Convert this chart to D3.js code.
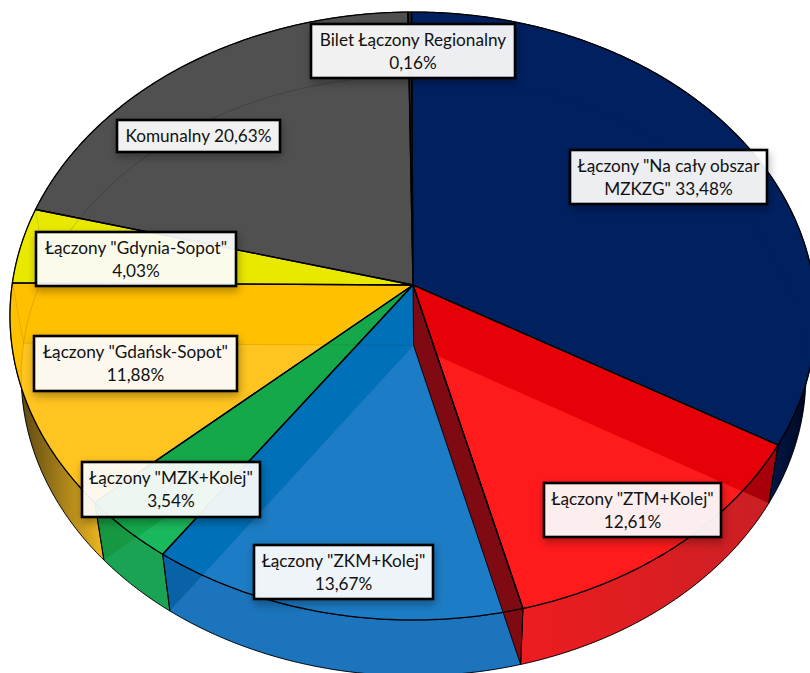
<!DOCTYPE html>
<html><head><meta charset="utf-8">
<script src="https://cdn.jsdelivr.net/npm/d3@7"></script>
<style>html,body{margin:0;background:#fff;overflow:hidden}svg{display:block}</style>
</head><body><svg id="c" width="810" height="673"></svg>
<script>
// ---- data ----
const labels = ['Łączony "Na cały obszar|MZKZG" 33,48%','Łączony "ZTM+Kolej"|12,61%','Łączony "ZKM+Kolej"|13,67%','Łączony "MZK+Kolej"|3,54%','Łączony "Gdańsk-Sopot"|11,88%','Łączony "Gdynia-Sopot"|4,03%','Komunalny 20,63%','Bilet Łączony Regionalny|0,16%'];
const values = [33.48,12.61,13.67,3.54,11.88,4.03,20.63,0.16];
// ---- styles ----
const topColors   = ['#002060','#e60008','#0070b8','#14a84a','#ffc000','#e9e900','#505050','#262626'];
const glossColors = ['#002060','#ff1a1c','#1c7cc5','#1ab85c','#ffc41f','#f7f700','#505050','#262626'];
const wallLeft    = ['#00174a','#a8000a','#0a62a6','#169640','#4a3a10','#8a8a00','#333','#111'];
const wallRight   = ['#000516','#a8000a','#0a62a6','#189e48','#f0b820','#a0a000','#333','#111'];
const wallGlossL  = ['#00174a','#ee1c20','#1c74bc','#1ba354','#4a3a10','#a0a000','#333','#111'];
const wallGlossR  = ['#000516','#c82024','#1c74bc','#1ba354','#f0b820','#a0a000','#333','#111'];
const faintArc    = [0,.05,.05,.05,.13,.13,.16,0];
const boxes = [[570,150,197,54],[544,483,177,54],[254,545,179,54],[82,462,178,55],[34,336,203,55],[36,232,200,54],[117,120,163,32],[311,24,204,54]];

// ---- projection of the tilted disc ----
const cx=413, cy=285, a=400.9, b=300.8, k=-0.102;
const vx=435, vy=4788, sx=0.0265, sy=0.0134;
const offset=-0.004;
function topP(t,r=1){const u=r*Math.sin(t),v=-r*Math.cos(t),d=1+k*v;return [cx+a*u/d,cy+b*v/d];}
function botP(t,r=1){const p=topP(t,r);return [p[0]+(vx-p[0])*sx,p[1]+(vy-p[1])*sy];}
const arc=(f,t0,t1)=>{const n=Math.max(2,Math.ceil(Math.abs(t1-t0)/0.01));return d3.range(n+1).map(i=>f(t0+(t1-t0)*i/n));};
const line=d3.line();
const closed=p=>line(p)+'Z';

const pie=d3.pie().sort(null).startAngle(offset).endAngle(2*Math.PI+offset);
const arcs=pie(values);
const svg=d3.select('#c');
const defs=svg.append('defs');

const f=defs.append('filter').attr('id','sh').attr('x','-20%').attr('y','-30%').attr('width','140%').attr('height','170%');
f.append('feDropShadow').attr('dx',1).attr('dy',4).attr('stdDeviation',4).attr('flood-color','#000').attr('flood-opacity',.33);

function grad(id,x0,x1,c0,c1){
  const g=defs.append('linearGradient').attr('id',id).attr('gradientUnits','userSpaceOnUse').attr('x1',x0).attr('x2',x1).attr('y1',0).attr('y2',0);
  g.append('stop').attr('offset',0).attr('stop-color',c0);
  g.append('stop').attr('offset',1).attr('stop-color',c1);
}
arcs.forEach((d,i)=>{
  const wall=arc(t=>topP(t),d.startAngle,d.endAngle).concat(arc(t=>botP(t),d.endAngle,d.startAngle));
  const xs=d3.extent(wall.filter(p=>p[1]>300),p=>p[0]);
  const x0=xs[0]===undefined?0:xs[0], x1=xs[1]===undefined?1:xs[1];
  grad('w'+i,x0,x1,wallLeft[i],wallRight[i]);
  grad('g'+i,x0,x1,wallGlossL[i],wallGlossR[i]);
  d.wall=closed(wall);
  d.top=closed([[cx,cy]].concat(arc(t=>topP(t),d.startAngle,d.endAngle)));
  d.bot=closed([botP(0,0)].concat(arc(t=>botP(t),d.startAngle,d.endAngle)));
  d.botArc=line(arc(t=>botP(t),d.startAngle,d.endAngle));
  defs.append('clipPath').attr('id','ct'+i).append('path').attr('d',d.top);
  defs.append('clipPath').attr('id','cw'+i).append('path').attr('d',d.wall);
});

// walls
svg.append('g').selectAll('path').data(arcs).join('path').attr('d',d=>d.wall).attr('fill',(d,i)=>`url(#w${i})`);
svg.append('g').selectAll('path').data(arcs).join('path').attr('d',d=>d.bot).attr('fill',(d,i)=>`url(#g${i})`).attr('clip-path',(d,i)=>`url(#cw${i})`);
svg.append('g').selectAll('path').data(arcs).join('path').attr('d',d=>d.wall).attr('fill','none').attr('stroke','#000').attr('stroke-width',.9);
// tops
svg.append('g').selectAll('path').data(arcs).join('path').attr('d',d=>d.top).attr('fill',(d,i)=>topColors[i]);
svg.append('g').selectAll('path').data(arcs).join('path').attr('d',d=>d.bot).attr('fill',(d,i)=>glossColors[i]).attr('clip-path',(d,i)=>`url(#ct${i})`);
// see-through outlines of the floor and hidden edges
const faint=svg.append('g').attr('fill','none').attr('stroke','#000').attr('stroke-width',1);
faint.selectAll('.b').data(arcs).join('path').attr('d',d=>d.botArc).attr('stroke-opacity',(d,i)=>faintArc[i]);
faint.append('path').attr('d',line([botP(0,0),botP(arcs[4].endAngle)])).attr('stroke-opacity',.1);
faint.append('path').attr('d',line([topP(arcs[4].endAngle),botP(arcs[4].endAngle)])).attr('stroke-opacity',.1);
faint.append('path').attr('d',line([topP(arcs[5].endAngle),botP(arcs[5].endAngle)])).attr('stroke-opacity',.1);
// cut face between ZTM and ZKM
const cut=arcs[1].endAngle;
svg.append('path').attr('d',closed([[cx,cy],topP(cut),botP(cut),botP(0,0)])).attr('fill','#7f0a12').attr('stroke','#000').attr('stroke-width',.9);
// outlines of the tops
svg.append('g').selectAll('path').data(arcs).join('path').attr('d',d=>d.top).attr('fill','none').attr('stroke','#000').attr('stroke-width',1.3).attr('stroke-linejoin','round');

// labels
const lab=svg.append('g').selectAll('g').data(labels).join('g');
lab.append('rect').attr('x',(d,i)=>boxes[i][0]).attr('y',(d,i)=>boxes[i][1]).attr('width',(d,i)=>boxes[i][2]).attr('height',(d,i)=>boxes[i][3])
  .attr('fill','#fff').attr('fill-opacity',.91).attr('stroke','#000').attr('stroke-width',2.6).attr('filter','url(#sh)');
lab.each(function(d,i){
  const ls=d.split('|'),bx=boxes[i];
  const y0=bx[1]+bx[3]/2-(ls.length-1)*11.5;
  d3.select(this).selectAll('text').data(ls).join('text')
   .attr('x',bx[0]+bx[2]/2).attr('y',(s,j)=>y0+j*23+6)
   .attr('text-anchor','middle').attr('fill','#111')
   .attr('font-family','Lato, "Open Sans", sans-serif').attr('font-size',17.2).text(s=>s);
});
</script></body></html>
